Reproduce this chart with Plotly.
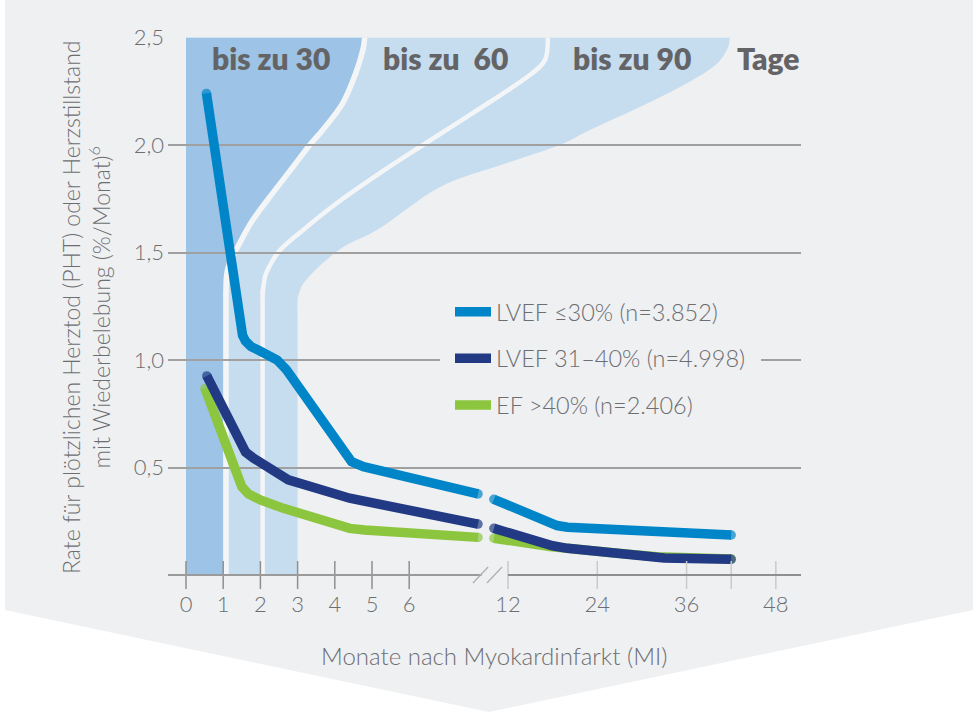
import plotly.graph_objects as go

# ------------------------------------------------------------------ data
left_month_ticks = [0, 1, 2, 3, 4, 5, 6]
right_month_ticks = [12, 24, 36, 48]
right_tick_marks = [12, 24, 36, 42, 48]
rate_ticks = [0.5, 1.0, 1.5, 2.0, 2.5]
rate_tick_labels = ["0,5", "1,0", "1,5", "2,0", "2,5"]

series_names = ["LVEF ≤30% (n=3.852)", "LVEF 31–40% (n=4.998)", "EF >40% (n=2.406)"]

# LVEF <=30 %
lvef30_early_months = [0.55, 1.45, 1.52, 1.6, 1.75, 1.95, 2.2, 2.45, 2.7, 4.27, 4.45, 4.77, 7.85]
lvef30_early_rate = [2.24, 1.155, 1.115, 1.088, 1.062, 1.045, 1.025, 1.0, 0.955, 0.558, 0.527, 0.504, 0.377]
lvef30_late_months = [10.1, 17.6, 18.6, 20.0, 42.0]
lvef30_late_rate = [0.352, 0.242, 0.230, 0.222, 0.186]

# LVEF 31-40 %
lvef40_early_months = [0.56, 1.45, 1.6, 1.82, 2.5, 2.75, 4.4, 7.85]
lvef40_early_rate = [0.926, 0.613, 0.572, 0.543, 0.46, 0.443, 0.357, 0.237]
lvef40_late_months = [10.1, 16.5, 18.0, 20.0, 28.0, 33.0, 42.0]
lvef40_late_rate = [0.217, 0.148, 0.136, 0.124, 0.09, 0.079, 0.073]

# EF >40 %
ef40_early_months = [0.51, 1.4, 1.5, 1.68, 2.0, 2.62, 4.4, 4.8, 7.85]
ef40_early_rate = [0.868, 0.46, 0.411, 0.377, 0.349, 0.31, 0.217, 0.209, 0.175]
ef40_late_months = [10.1, 17.6, 25.7, 32.0, 42.0]
ef40_late_rate = [0.171, 0.133, 0.105, 0.085, 0.075]

band_labels = ["bis zu 30", "bis zu\u00a0 60", "bis zu 90", "Tage"]

# decorative "30 / 60 / 90 Tage" band outlines (months, rate)
band30_edge = [(1.0, 0), (1.0, 1.2), (1.0, 1.30), (1.02, 1.395), (1.10, 1.451), (1.37, 1.544),
               (1.72, 1.651), (2.26, 1.777), (2.80, 1.898), (3.25, 2.0), (3.60, 2.07),
               (4.14, 2.195), (4.49, 2.335), (4.68, 2.442), (4.73, 2.5)]
band60_edge = [(2.06, 0), (2.06, 1.2), (2.06, 1.302), (2.10, 1.363), (2.18, 1.414), (2.53, 1.512),
               (3.25, 1.619), (4.06, 1.730), (5.22, 1.870), (6.37, 2.0), (8.17, 2.2),
               (9.17, 2.316), (9.65, 2.395), (9.73, 2.5)]
band90_edge = [(3.0, 0), (3.0, 1.2), (3.0, 1.279), (3.09, 1.335), (3.25, 1.377), (3.68, 1.451),
               (4.27, 1.530), (5.22, 1.614), (6.83, 1.805), (8.63, 1.916), (10.05, 2.0),
               (10.86, 2.07), (12.2, 2.177), (13.28, 2.27), (14.17, 2.363), (14.54, 2.442),
               (14.62, 2.5)]

# ------------------------------------------------------------------ style
W, H = 978, 712
BG = "#eff0f2"
GAP = "#f4f5f7"
DARK_BAND = "#9dc3e6"
LIGHT_BAND = "#c6ddf0"
GRID = "#a0a0a0"
TEXT = "#6d6e71"
TITLE_TEXT = "#646466"
BLUE = "#0085c8"
NAVY = "#213a83"
GREEN = "#8cc63f"
LW = 9.5
FONT = "Lato"


def px_x(p):
    return p / W


def px_y(p):
    return 1 - p / H


# left axis: 0 months at x=186px, 37.2 px / month ; right axis: 12 months at 508px, 7.44 px / month
L0, L1 = 168, 801
x_range = [(L0 - 186) / 37.2, (L1 - 186) / 37.2]
R0 = 480
x2_range = [12 - (508 - R0) / 7.44, 12 + (L1 - 508) / 7.44]
y_domain = [px_y(575), px_y(37.5)]


def smooth(pts):
    segs = []
    n = len(pts)
    for i in range(n - 1):
        p0 = pts[i - 1] if i > 0 else pts[i]
        p1 = pts[i]
        p2 = pts[i + 1]
        p3 = pts[i + 2] if i + 2 < n else pts[i + 1]
        c1 = (p1[0] + (p2[0] - p0[0]) / 6, p1[1] + (p2[1] - p0[1]) / 6)
        c2 = (p2[0] - (p3[0] - p1[0]) / 6, p2[1] - (p3[1] - p1[1]) / 6)
        segs.append(f"C{c1[0]:.4f},{c1[1]:.4f} {c2[0]:.4f},{c2[1]:.4f} {p2[0]:.4f},{p2[1]:.4f}")
    return " ".join(segs)


fig = go.Figure()

series = [
    (2, GREEN, ef40_early_months, ef40_early_rate, ef40_late_months, ef40_late_rate),
    (1, NAVY, lvef40_early_months, lvef40_early_rate, lvef40_late_months, lvef40_late_rate),
    (0, BLUE, lvef30_early_months, lvef30_early_rate, lvef30_late_months, lvef30_late_rate),
]
for idx, color, xe, ye, xl, yl in series:
    for part, (xs, ys, xa) in enumerate([(xe, ye, "x"), (xl, yl, "x2")]):
        sizes = [LW] + [0] * (len(xs) - 2) + [LW]
        fig.add_trace(go.Scatter(
            x=xs, y=ys, xaxis=xa, yaxis="y", mode="lines+markers",
            name=series_names[idx], legendgroup=series_names[idx], legendrank=idx + 1,
            showlegend=(part == 0),
            line=dict(color=color, width=LW),
            marker=dict(color=color, size=sizes, line=dict(width=0)),
            hoverinfo="skip", cliponaxis=False,
        ))

# tick marks crossing the baseline
fig.add_trace(go.Scatter(
    x=left_month_ticks, y=[0] * len(left_month_ticks), xaxis="x", yaxis="y", mode="markers",
    marker=dict(symbol="line-ns", size=20, color="#8f8f8f", line=dict(color="#8f8f8f", width=1.5)),
    showlegend=False, hoverinfo="skip", cliponaxis=False))
fig.add_trace(go.Scatter(
    x=right_tick_marks, y=[0] * len(right_tick_marks), xaxis="x2", yaxis="y", mode="markers",
    marker=dict(symbol="line-ns", size=20, color="#cacaca", line=dict(color="#cacaca", width=1.5)),
    showlegend=False, hoverinfo="skip", cliponaxis=False))

shapes = []
# chevron background
shapes.append(dict(type="path", xref="paper", yref="paper", layer="below",
                   path=f"M{px_x(5)},{px_y(0)} L{px_x(973)},{px_y(0)} L{px_x(973)},{px_y(610)} "
                        f"L{px_x(489)},{px_y(712)} L{px_x(5)},{px_y(610)} Z",
                   fillcolor=BG, line=dict(width=0)))
# light band (60 / 90 days)
r90 = list(reversed(band90_edge))
shapes.append(dict(type="path", xref="x", yref="y", layer="below",
                   path=f"M0,0 L0,2.5 L{r90[0][0]},{r90[0][1]} " + smooth(r90) + " Z",
                   fillcolor=LIGHT_BAND, line=dict(width=0)))
# dark band (30 days)
r30 = list(reversed(band30_edge))
shapes.append(dict(type="path", xref="x", yref="y", layer="below",
                   path=f"M0,0 L0,2.5 L{r30[0][0]},{r30[0][1]} " + smooth(r30) + " Z",
                   fillcolor=DARK_BAND, line=dict(width=0)))
# separating light strokes
g1 = [(m + 0.075, v) for m, v in band30_edge]
shapes.append(dict(type="path", xref="x", yref="y", layer="below",
                   path=f"M{g1[0][0]},{g1[0][1]} " + smooth(g1),
                   line=dict(color=GAP, width=5.5)))
shapes.append(dict(type="path", xref="x", yref="y", layer="below",
                   path=f"M{band60_edge[0][0]},{band60_edge[0][1]} " + smooth(band60_edge),
                   line=dict(color=GAP, width=4.5)))
# baseline segments (broken axis)
shapes.append(dict(type="line", xref="x", yref="y domain", x0=x_range[0], x1=7.95, y0=0, y1=0,
                   line=dict(color="#9a9a9a", width=1.8)))
shapes.append(dict(type="line", xref="x2", yref="y domain", x0=12, x1=x2_range[1], y0=0, y1=0,
                   line=dict(color="#8f8f8f", width=2.2)))
# break marks "//"
for x0 in (7.715, 8.09):
    shapes.append(dict(type="line", xref="x", yref="y domain", x0=x0, x1=x0 + 0.405,
                       y0=-0.0149, y1=0.0149, line=dict(color="#b0b0b0", width=1.3)))

annotations = []
label_pos = [(2.29, 2.405), (6.97, 2.405), (11.99, 2.405), (15.65, 2.405)]
for txt, (mx, ry) in zip(band_labels, label_pos):
    annotations.append(dict(text=txt, xref="x", yref="y", x=mx, y=ry, showarrow=False,
                            xanchor="center", yanchor="middle",
                            font=dict(family=FONT, size=30, color=TITLE_TEXT, weight=800)))
annotations.append(dict(
    text="Rate für plötzlichen Herztod (PHT) oder Herzstillstand<br>mit Wiederbelebung (%/Monat)<sup>6</sup>",
    xref="paper", yref="paper", x=px_x(86), y=px_y(308), textangle=-90, showarrow=False,
    xanchor="center", yanchor="middle",
    font=dict(family=FONT, size=23, color=TEXT, weight=300)))
annotations.append(dict(
    text="Monate nach Myokardinfarkt (MI)", xref="paper", yref="paper",
    x=px_x(494), y=px_y(655), showarrow=False, xanchor="center", yanchor="middle",
    font=dict(family=FONT, size=24, color=TEXT, weight=300)))

tickfont = dict(family=FONT, size=22, color=TEXT, weight=300)
fig.update_layout(
    width=W, height=H, margin=dict(l=0, r=0, t=0, b=0, autoexpand=False),
    paper_bgcolor="white", plot_bgcolor="rgba(0,0,0,0)",
    font=dict(family=FONT, color=TEXT),
    shapes=shapes, annotations=annotations, hovermode=False,
    xaxis=dict(domain=[px_x(L0), px_x(L1)], range=x_range, tickvals=left_month_ticks,
               ticktext=[str(v) for v in left_month_ticks], showgrid=False, zeroline=False,
               showline=False, ticks="", tickfont=tickfont, ticklabelstandoff=14, fixedrange=True,
               automargin=False),
    xaxis2=dict(domain=[px_x(R0), px_x(L1)], range=x2_range, anchor="y", tickvals=right_month_ticks,
                ticktext=[str(v) for v in right_month_ticks], showgrid=False, zeroline=False,
                showline=False, ticks="", tickfont=tickfont, ticklabelstandoff=14, fixedrange=True,
                automargin=False),
    yaxis=dict(domain=y_domain, range=[0, 2.5], tickvals=rate_ticks, ticktext=rate_tick_labels,
               showgrid=True, gridcolor=GRID, gridwidth=1.8, zeroline=False, showline=False,
               ticks="", tickfont=tickfont, ticklabelstandoff=3, fixedrange=True, automargin=False),
    legend=dict(x=px_x(440), y=px_y(280), xanchor="left", yanchor="top", bgcolor=BG,
                bordercolor=BG, borderwidth=10, traceorder="grouped", tracegroupgap=13,
                itemwidth=36, font=dict(family=FONT, size=23.5, color=TEXT, weight=300)),
)

post = ("document.documentElement.style.margin='0';document.body.style.margin='0';"
        "document.body.style.padding='0';document.documentElement.style.overflow='hidden';"
        "var d=document.getElementById('{plot_id}');d.style.position='absolute';"
        "d.style.left='0px';d.style.top='0px';")
fig.write_html("out.html", post_script=post, config={"displayModeBar": False})
